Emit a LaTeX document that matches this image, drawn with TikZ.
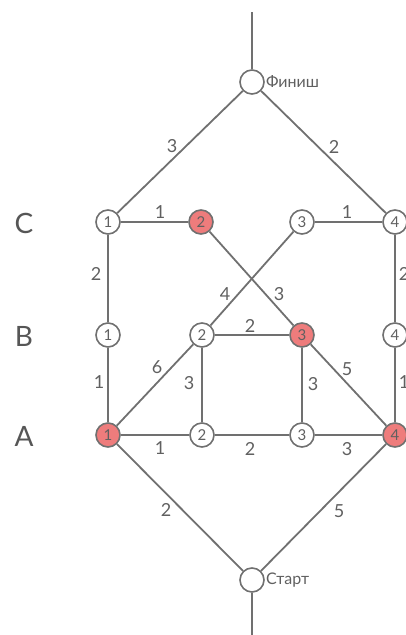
\documentclass[tikz,border=0pt]{standalone}
\usepackage{fontspec}
\setmainfont{Lato}
\definecolor{linegray}{RGB}{112,112,112}
\definecolor{textgray}{RGB}{96,96,96}
\definecolor{hitred}{RGB}{238,124,124}
\begin{document}
\begin{tikzpicture}[x=1pt,y=-1pt,
    vert/.style={circle,draw=linegray,line width=1.6pt,fill=white,minimum size=24pt,inner sep=0pt,
        font=\fontsize{15}{15}\selectfont,text=textgray},
    hit/.style={vert,fill=hitred},
    wt/.style={font=\fontsize{18}{18}\selectfont,text=textgray,inner sep=0pt},
    row/.style={font=\fontsize{28}{28}\selectfont,text=textgray!90!black},
    road/.style={draw=linegray,line width=1.8pt}]
    \useasboundingbox (0,0) rectangle (406,635);

    % Start, finish and free ends
    \node[vert] (fin) at (252,82) {};
    \node[vert] (st) at (252,580) {};
    \coordinate (top) at (252,12);
    \coordinate (bot) at (252,640);
    \node[anchor=west,font=\fontsize{16}{16}\selectfont,text=textgray,inner sep=1pt] (finlbl) at (fin.east) {Финиш};
    \node[anchor=west,font=\fontsize{16}{16}\selectfont,text=textgray,inner sep=1pt] (stlbl) at (st.east) {Старт};

    % Rows
    \node[row] (rc) at (24,223) {C};
    \node[row] (rb) at (24,336) {B};
    \node[row] (ra) at (24,436) {A};

    % Vertices
    \node[vert] (c1) at (108,222) {1};
    \node[hit]  (c2) at (201,222) {2};
    \node[vert] (c3) at (302,222) {3};
    \node[vert] (c4) at (395,222) {4};
    \node[vert] (b1) at (108,335) {1};
    \node[vert] (b2) at (202,335) {2};
    \node[hit]  (b3) at (302,335) {3};
    \node[vert] (b4) at (395,335) {4};
    \node[hit]  (a1) at (108,435) {1};
    \node[vert] (a2) at (202,435) {2};
    \node[vert] (a3) at (302,435) {3};
    \node[hit]  (a4) at (395,435) {4};

    % Roads
    \draw[road] (top) -- (fin);
    \draw[road] (st) -- (bot);
    \draw[road] (fin) -- (c1);
    \draw[road] (fin) -- (c4);
    \draw[road] (st) -- (a1);
    \draw[road] (st) -- (a4);
    \draw[road] (c1) -- (c2);
    \draw[road] (c3) -- (c4);
    \draw[road] (c1) -- (b1);
    \draw[road] (b1) -- (a1);
    \draw[road] (c4) -- (b4);
    \draw[road] (b4) -- (a4);
    \draw[road] (c2) -- (b3);
    \draw[road] (c3) -- (b2);
    \draw[road] (b2) -- (b3);
    \draw[road] (a1) -- (b2);
    \draw[road] (b2) -- (a2);
    \draw[road] (b3) -- (a3);
    \draw[road] (b3) -- (a4);
    \draw[road] (a1) -- (a2);
    \draw[road] (a2) -- (a3);
    \draw[road] (a3) -- (a4);

    % Weights
    \node[wt] (w1) at (172,146) {3};
    \node[wt] (w2) at (334,147) {2};
    \node[wt] (w3) at (160,212) {1};
    \node[wt] (w4) at (347,212) {1};
    \node[wt] (w5) at (96,274) {2};
    \node[wt] (w6) at (99,382) {1};
    \node[wt] (w7) at (225,294) {4};
    \node[wt] (w8) at (279,294) {3};
    \node[wt] (w9) at (250,326) {2};
    \node[wt] (w10) at (157,367) {6};
    \node[wt] (w11) at (189,383) {3};
    \node[wt] (w12) at (313,384) {3};
    \node[wt] (w13) at (347,369) {5};
    \node[wt] (w14) at (404,274) {2};
    \node[wt] (w15) at (404,382) {1};
    \node[wt] (w16) at (160,448) {1};
    \node[wt] (w17) at (250,449) {2};
    \node[wt] (w18) at (347,449) {3};
    \node[wt] (w19) at (166,510) {2};
    \node[wt] (w20) at (339,511) {5};
\end{tikzpicture}
\end{document}
